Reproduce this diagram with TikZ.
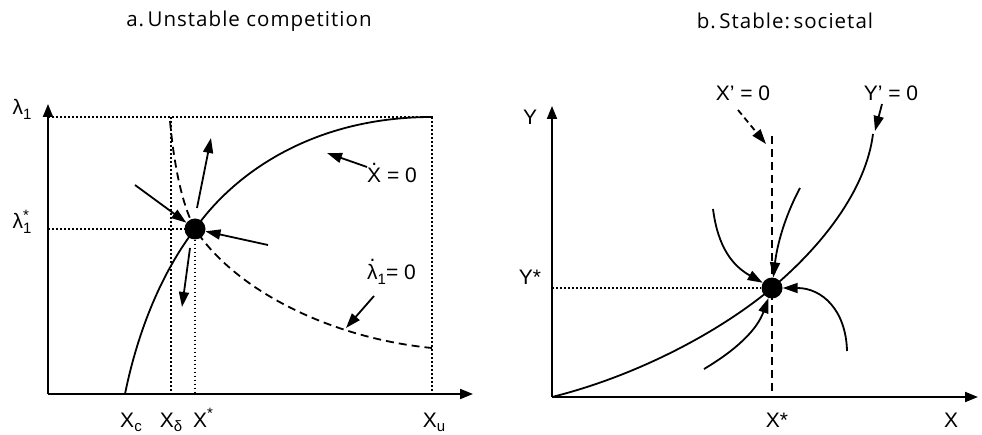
\documentclass[tikz,border=0pt]{standalone}
\usepackage{fontspec}
\setmainfont{Liberation Sans}
\newfontfamily\titlefont{Open Sans}[LetterSpace=5]
\usetikzlibrary{arrows.meta}

% Punkt ueber einem Zeichen (Zeitableitung)
\newcommand{\topdot}[1]{\leavevmode\vbox{\offinterlineskip\ialign{\hfil##\hfil\cr.\cr\noalign{\kern0.15em}#1\cr}}}
\newcommand{\lowidx}[1]{\raisebox{-0.45ex}{\fontsize{15}{17}\selectfont #1}}
\newcommand{\highidx}[1]{\raisebox{0.75ex}{\fontsize{15}{17}\selectfont #1}}

\begin{document}
\begin{tikzpicture}[x=1pt, y=-1pt,
    every node/.style={inner sep=0pt, font=\fontsize{21}{25}\selectfont},
    tip/.style={-{Triangle[length=15pt, width=10pt]}}]

    \useasboundingbox (0,0) rectangle (982,435);

    \tikzset{achse/.style={line width=2pt, -{Triangle[length=13pt, width=10pt]}}}
    \tikzset{kurve/.style={line width=1.8pt}}
    \tikzset{hilfslinie/.style={line width=1.7pt, dash pattern=on 1.7pt off 2.3pt}}
    \tikzset{strichlinie/.style={line width=1.8pt, dash pattern=on 8pt off 5pt}}
    \tikzset{fluss/.style={line width=1.8pt, tip}}
    \tikzset{gleichgewicht/.style={circle, fill=black, minimum size=21pt}}

    % --- 1. Titel ---
    \node[font=\titlefont\fontsize{20.5}{24}\selectfont] (titel-a) at (249,21) {a.\,Unstable competition};
    \node[font=\titlefont\fontsize{20.5}{24}\selectfont] (titel-b) at (785,21) {b.\,Stable:\,societal};

    % --- 2. Linkes Diagramm: Achsen und Hilfslinien ---
    \coordinate (a-o) at (48,394);
    \coordinate (a-ytop) at (48,104);
    \coordinate (a-xend) at (473,394);
    \coordinate (a-lo) at (48,117);
    \coordinate (a-ro) at (432,117);
    \coordinate (a-ru) at (432,394);
    \node[gleichgewicht] (eq-a) at (195,229) {};

    \draw[hilfslinie] (a-lo) -- (a-ro) -- (a-ru);
    \draw[hilfslinie] (171,117) -- (171,394);
    \draw[hilfslinie] (48,229) -- (eq-a);
    \draw[hilfslinie] (eq-a) -- (195,394);
    \draw[achse] (a-o) -- (a-xend);
    \draw[achse] (a-o) -- (a-ytop);

    % --- 3. Linkes Diagramm: Nullklinen ---
    \draw[kurve] (125,394) .. controls (138,330) and (162,272) .. (eq-a.center)
                 .. controls (232,176) and (310,117) .. (a-ro);
    \draw[strichlinie] (170,121) .. controls (174,165) and (182,205) .. (eq-a.center)
                 .. controls (235,290) and (330,338) .. (432,348);

    % --- 4. Linkes Diagramm: Pfeile am Gleichgewicht ---
    \coordinate (a-p1) at (135,185);
    \coordinate (a-p2s) at (197,208);
    \coordinate (a-p2e) at (211,138);
    \coordinate (a-p3) at (268,245);
    \coordinate (a-p4s) at (190,248);
    \coordinate (a-p4e) at (182,307);
    \draw[fluss] (a-p1) -- (eq-a);
    \draw[fluss] (a-p2s) -- (a-p2e);
    \draw[fluss] (a-p3) -- (eq-a);
    \draw[fluss] (a-p4s) -- (a-p4e);

    % --- 5. Linkes Diagramm: Beschriftungen ---
    \node (lambda) at (22,109) {λ\lowidx{1}};
    \node (lambda-s) at (22,222) {λ\rlap{\highidx{*}}\lowidx{1}};
    \node[anchor=base] (x-c) at (131,427) {X\lowidx{c}};
    \node[anchor=base] (x-d) at (171,427) {X\lowidx{δ}};
    \node[anchor=base] (x-s) at (203,427) {X\highidx{*}};
    \node[anchor=base] (x-u) at (434,427) {X\lowidx{u}};

    \node[anchor=base west] (txt-xdot) at (367,183) {\topdot{X} = 0};
    \coordinate (a-k1) at (327,153);
    \draw[fluss] (txt-xdot.west |- 0,167) -- (a-k1);

    \node[anchor=base west] (txt-ldot) at (367,280) {\topdot{λ}\lowidx{1}= 0};
    \coordinate (a-k2) at (346,328);
    \draw[fluss] (374,296) -- (a-k2);

    % --- 6. Rechtes Diagramm: Achsen und Hilfslinien ---
    \coordinate (b-o) at (552,397);
    \coordinate (b-ytop) at (552,106);
    \coordinate (b-xend) at (978,397);
    \node[gleichgewicht] (eq-b) at (772,288) {};

    \draw[hilfslinie] (552,288) -- (eq-b);
    \draw[strichlinie] (772,136) -- (772,397);
    \draw[achse] (b-o) -- (b-xend);
    \draw[achse] (b-o) -- (b-ytop);

    % --- 7. Rechtes Diagramm: Nullkline Y' = 0 ---
    \coordinate (b-ende) at (873,134);
    \draw[kurve] (b-o) .. controls (640,375) and (722,330) .. (eq-b.center)
                 .. controls (822,246) and (866,190) .. (b-ende);

    % --- 8. Rechtes Diagramm: gekruemmte Flusspfeile ---
    \coordinate (b-f1) at (713,209);
    \coordinate (b-f2) at (800,188);
    \coordinate (b-f3) at (847,351);
    \coordinate (b-f4) at (704,369);
    \draw[fluss] (b-f1) .. controls (718,248) and (733,266) .. (eq-b);
    \draw[fluss] (b-f2) .. controls (784,218) and (777,246) .. (eq-b);
    \draw[fluss] (b-f3) .. controls (846,310) and (822,288) .. (eq-b);
    \draw[fluss] (b-f4) .. controls (736,350) and (757,330) .. (eq-b);

    % --- 9. Rechtes Diagramm: Beschriftungen ---
    \node (y) at (530,117) {Y};
    \node (y-s) at (530,277) {Y*};
    \node[anchor=base] (x-s-b) at (777,427) {X*};
    \node[anchor=base] (x) at (951,427) {X};

    \node (txt-xprime) at (743,93) {X’ = 0};
    \coordinate (b-k1) at (766,144);
    \draw[line width=1.8pt, dash pattern=on 6pt off 4pt, tip] (738,110) -- (b-k1);

    \node (txt-yprime) at (891,93) {Y’ = 0};
    \coordinate (b-k2) at (875,131);
    \draw[fluss] (882,104) -- (b-k2);

\end{tikzpicture}
\end{document}
